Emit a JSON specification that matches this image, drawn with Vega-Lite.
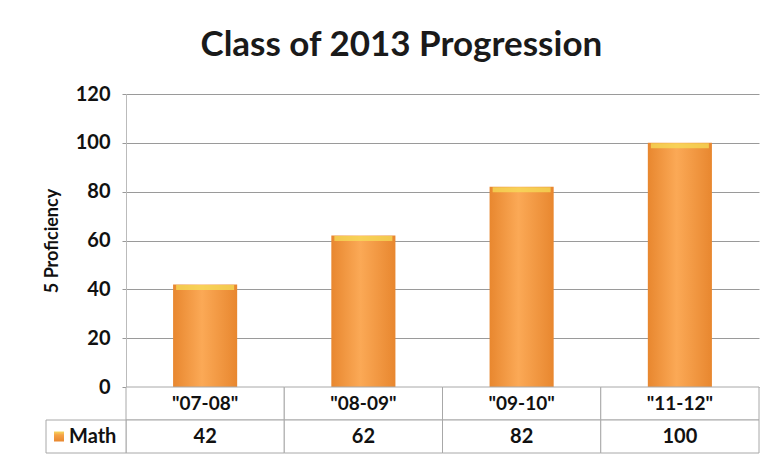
{
  "$schema": "https://vega.github.io/schema/vega-lite/v6.json",
  "background": "white",
  "padding": {"left": 43, "top": 28, "right": 10, "bottom": 5},
  "title": {"text": "Class of 2013 Progression", "font": "Lato", "fontSize": 35, "fontWeight": "bold", "color": "#1a1a1a", "anchor": "middle", "offset": 21},
  "data": {"values": [
    {"period": "\"07-08\"", "score": 42},
    {"period": "\"08-09\"", "score": 62},
    {"period": "\"09-10\"", "score": 82},
    {"period": "\"11-12\"", "score": 100}
  ]},
  "spacing": 0,
  "bounds": "flush",
  "vconcat": [
    {
      "width": 633,
      "height": 293,
      "encoding": {
        "x": {"field": "period", "type": "nominal", "sort": null, "scale": {"paddingInner": 0, "paddingOuter": 0}, "axis": null},
        "y": {"field": "score", "type": "quantitative", "scale": {"domain": [0, 120]},
          "axis": {"values": [0, 20, 40, 60, 80, 100, 120], "title": "5 Proficiency", "titleFont": "Lato", "titleFontSize": 18, "titleFontWeight": "bold", "titleColor": "#111", "titlePadding": 14,
            "labelFont": "Lato", "labelFontSize": 20, "labelFontWeight": "bold", "labelColor": "#111", "labelPadding": 12,
            "tickSize": 4, "tickColor": "#999", "domainColor": "#bbb", "grid": true, "gridColor": "#9a9a9a"}}
      },
      "layer": [
        {"mark": {"type": "bar", "width": {"band": 0.405},
          "color": {"gradient": "linear", "x1": 0, "x2": 1, "y1": 0, "y2": 0,
            "stops": [{"offset": 0, "color": "#E8872F"}, {"offset": 0.45, "color": "#FBA956"}, {"offset": 1, "color": "#E8872F"}]}}},
        {"mark": {"type": "tick", "color": "#F6E25A", "thickness": 5, "size": 58, "yOffset": 3}}
      ]
    },
    {
      "width": 633,
      "height": 66,
      "resolve": {"scale": {"x": "independent"}},
      "layer": [
        {
          "encoding": {
            "x": {"field": "period", "type": "nominal", "sort": null, "scale": {"paddingInner": 0, "paddingOuter": 0}, "axis": null}
          },
          "layer": [
            {"mark": {"type": "rect", "fill": "white", "stroke": "#a8a8a8", "strokeWidth": 1},
             "encoding": {"y": {"datum": "label", "scale": {"domain": ["label", "Math"], "paddingInner": 0, "paddingOuter": 0}, "axis": null}}},
            {"mark": {"type": "rect", "fill": "white", "stroke": "#a8a8a8", "strokeWidth": 1},
             "encoding": {"y": {"datum": "Math"}}},
            {"mark": {"type": "text", "font": "Lato", "fontSize": 19, "fontWeight": "bold", "color": "#111"},
             "encoding": {"y": {"datum": "label"}, "text": {"field": "period"}}},
            {"mark": {"type": "text", "font": "Lato", "fontSize": 20, "fontWeight": "bold", "color": "#111"},
             "encoding": {"y": {"datum": "Math"}, "text": {"field": "score"}}}
          ]
        },
        {
          "data": {"values": [{"subject": "Math"}]},
          "encoding": {
            "x": {"field": "subject", "type": "nominal", "scale": {"range": [-80, 0], "paddingInner": 0, "paddingOuter": 0}, "axis": null},
            "y": {"datum": "Math"}
          },
          "layer": [
            {"mark": {"type": "rect", "fill": "white", "stroke": "#a8a8a8", "strokeWidth": 1}},
            {"mark": {"type": "square", "size": 100, "xOffset": -27, "opacity": 1,
              "color": {"gradient": "linear", "x1": 0, "x2": 0, "y1": 0, "y2": 1, "stops": [{"offset": 0, "color": "#F6D860"}, {"offset": 0.35, "color": "#F5A347"}, {"offset": 1, "color": "#E8872F"}]}}},
            {"mark": {"type": "text", "font": "Lato", "fontSize": 20, "fontWeight": "bold", "color": "#111", "align": "left", "dx": -17},
             "encoding": {"text": {"field": "subject"}}}
          ]
        }
      ]
    }
  ],
  "config": {"view": {"stroke": null}}
}
